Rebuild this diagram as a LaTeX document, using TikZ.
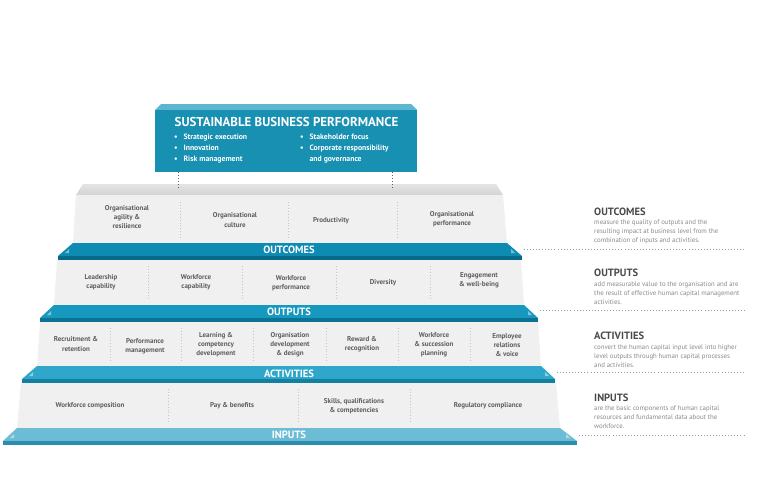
\documentclass[tikz,border=0pt]{standalone}
\usepackage{fontspec}
\setmainfont{PT Sans}
\definecolor{boxteal}{HTML}{1890B2}
\definecolor{boxbevel}{HTML}{5DB6D0}
\definecolor{bandA}{HTML}{0E8BB3}
\definecolor{bandB}{HTML}{1798BF}
\definecolor{bandC}{HTML}{2EA7CA}
\definecolor{bandD}{HTML}{6DBCD6}
\definecolor{stripA}{HTML}{07698A}
\definecolor{stripB}{HTML}{0A7394}
\definecolor{stripC}{HTML}{13809F}
\definecolor{stripD}{HTML}{2A8DAE}
\definecolor{facegray}{HTML}{F0F0F0}
\definecolor{bevtop}{HTML}{E4E4E4}
\definecolor{bevbot}{HTML}{D3D3D3}
\definecolor{labgray}{HTML}{5E5E5E}
\definecolor{divgray}{HTML}{C4C4C4}
\definecolor{leadgray}{HTML}{9A9A9A}
\definecolor{headgray}{HTML}{4A4A4A}
\definecolor{bodygray}{HTML}{8A8A8A}
\begin{document}
\begin{tikzpicture}[x=0.03cm,y=-0.03cm,
  lbl/.style={font=\fontsize{6}{7.8}\selectfont\bfseries, text=labgray, align=center, inner sep=0pt},
  bandlbl/.style={font=\fontsize{9}{10}\selectfont\bfseries, text=white, inner sep=0pt},
  divider/.style={draw=divgray, dotted, line width=0.5pt},
  lead/.style={draw=leadgray, dotted, line width=0.6pt},
  vlead/.style={draw=labgray, dotted, line width=0.6pt},
  head/.style={font=\fontsize{9}{10}\selectfont\bfseries, text=headgray, anchor=west, inner sep=0pt},
  body/.style={font=\fontsize{5.8}{7.7}\selectfont, text=bodygray, align=left, anchor=west, inner sep=0pt},
  cornermark/.style={fill=white, fill opacity=0.45, draw=none},
  toptxt/.style={font=\fontsize{6.6}{9.4}\selectfont\bfseries, text=white, inner sep=0pt, anchor=north west}
]
\useasboundingbox (0,0) rectangle (769,500);
\fill[white] (0,0) rectangle (769,500);

% ---------- top box ----------
\fill[boxbevel] (161,104) -- (411,104) -- (417,110) -- (155,110) -- cycle;
\fill[boxteal] (155,110) rectangle (417,172);
\node[font=\fontsize{11}{12}\selectfont\bfseries, text=white, inner sep=0pt] (title) at (286.5,122) {SUSTAINABLE BUSINESS PERFORMANCE};
\node[toptxt] (bul1) at (174,132) {\begin{tabular}{@{}l@{\hspace{5pt}}l@{}}\textbullet & Strategic execution\\ \textbullet & Innovation\\ \textbullet & Risk management\end{tabular}};
\node[toptxt] (bul2) at (300,132) {\begin{tabular}{@{}l@{\hspace{5pt}}l@{}}\textbullet & Stakeholder focus\\ \textbullet & Corporate responsibility\\ & and governance\end{tabular}};
\coordinate (v1t) at (178,172);
\coordinate (v1b) at (178,189);
\coordinate (v2t) at (392,172);
\coordinate (v2b) at (392,189);

% ---------- OUTCOMES tier ----------
\shade[top color=bevtop, bottom color=bevbot] (83,184) -- (496,184) -- (503,195) -- (76,195) -- cycle;
\fill[facegray] (76,195) -- (503,195) -- (507,243) -- (73,243) -- cycle;
\draw[vlead] (v1t) -- (v1b);
\draw[vlead] (v2t) -- (v2b);
\foreach \x in {180,288,397} \draw[divider] (\x,202) -- (\x,238);
\node[lbl] (oc1) at (127,217) {Organisational\\agility \&\\resilience};
\node[lbl] (oc2) at (235,220) {Organisational\\culture};
\node[lbl] (oc3) at (331,221) {Productivity};
\node[lbl] (oc4) at (452,219) {Organisational\\performance};
\fill[bandA] (73,243) -- (507,243) -- (522,256) -- (58,256) -- cycle;
\fill[stripA] (58,256) rectangle (522,260);
\fill[cornermark] (65,253) -- (69,253) -- (69,249) -- cycle;
\fill[cornermark] (511,253) -- (515,253) -- (511,249) -- cycle;
\node[bandlbl] (outcomes) at (289,250) {OUTCOMES};
\coordinate (e1) at (524,249);

% ---------- OUTPUTS tier ----------
\fill[facegray] (57,260) -- (521,260) -- (524,305) -- (54,305) -- cycle;
\foreach \x in {148,242,336,430} \draw[divider] (\x,266) -- (\x,300);
\node[lbl] (op1) at (101,282.5) {Leadership\\capability};
\node[lbl] (op2) at (196,282.5) {Workforce\\capability};
\node[lbl] (op3) at (291,283) {Workforce\\performance};
\node[lbl] (op4) at (383,283) {Diversity};
\node[lbl] (op5) at (479,280.5) {Engagement\\\& well-being};
\fill[bandB] (54,305) -- (524,305) -- (538,318) -- (40,318) -- cycle;
\fill[stripB] (40,318) rectangle (538,322);
\fill[cornermark] (47,315) -- (51,315) -- (51,311) -- cycle;
\fill[cornermark] (528,315) -- (532,315) -- (528,311) -- cycle;
\node[bandlbl] (outputs) at (289,312) {OUTPUTS};
\coordinate (e2) at (540,310);

% ---------- ACTIVITIES tier ----------
\fill[facegray] (40,322) -- (538,322) -- (541,366) -- (37,366) -- cycle;
\foreach \x in {110,181,253,326,398,470} \draw[divider] (\x,328) -- (\x,362);
\node[lbl] (ac1) at (76,344) {Recruitment \&\\retention};
\node[lbl] (ac2) at (145,346.5) {Performance\\management};
\node[lbl] (ac3) at (216,345) {Learning \&\\competency\\development};
\node[lbl] (ac4) at (290,345) {Organisation\\development\\\& design};
\node[lbl] (ac5) at (362,344.5) {Reward \&\\recognition};
\node[lbl] (ac6) at (434,345) {Workforce\\\& succession\\planning};
\node[lbl] (ac7) at (507,345) {Employee\\relations\\\& voice};
\fill[bandC] (37,366) -- (541,366) -- (555,379) -- (22,379) -- cycle;
\fill[stripC] (22,379) rectangle (555,383);
\fill[cornermark] (29,376) -- (33,376) -- (33,372) -- cycle;
\fill[cornermark] (545,376) -- (549,376) -- (545,372) -- cycle;
\node[bandlbl] (activities) at (289,373.5) {ACTIVITIES};
\coordinate (e3) at (557,372);

% ---------- INPUTS tier ----------
\fill[facegray] (21,383) -- (556,383) -- (560,428) -- (17,428) -- cycle;
\foreach \x in {168,298,410} \draw[divider] (\x,389) -- (\x,423);
\node[lbl] (in1) at (90,405.5) {Workforce composition};
\node[lbl] (in2) at (232,405.5) {Pay \& benefits};
\node[lbl] (in3) at (354,406.5) {Skills, qualifications\\\& competencies};
\node[lbl] (in4) at (488,405.5) {Regulatory compliance};
\fill[bandD] (17,428) -- (560,428) -- (577,441) -- (3,441) -- cycle;
\fill[stripD] (3,441) rectangle (577,445);
\fill[cornermark] (10,438) -- (14,438) -- (14,434) -- cycle;
\fill[cornermark] (566,438) -- (570,438) -- (566,434) -- cycle;
\node[bandlbl] (inputs) at (289,435) {INPUTS};
\coordinate (e4) at (579,435);

% ---------- right-hand descriptions ----------
\node[head] (hOC) at (594,212) {OUTCOMES};
\node[body] (bOC) at (594,232) {measure the quality of outputs and the\\resulting impact at business level from the\\combination of inputs and activities.};
\coordinate (r1) at (745,249);
\draw[lead] (e1) -- (r1);

\node[head] (hOP) at (594,273) {OUTPUTS};
\node[body] (bOP) at (594,293) {add measurable value to the organisation and are\\the result of effective human capital management\\activities.};
\coordinate (r2) at (745,310);
\draw[lead] (e2) -- (r2);

\node[head] (hAC) at (594,336) {ACTIVITIES};
\node[body] (bAC) at (594,356) {convert the human capital input level into higher\\level outputs through human capital processes\\and activities.};
\coordinate (r3) at (745,372);
\draw[lead] (e3) -- (r3);

\node[head] (hIN) at (594,398) {INPUTS};
\node[body] (bIN) at (594,417) {are the basic components of human capital\\resources and fundamental data about the\\workforce.};
\coordinate (r4) at (745,435);
\draw[lead] (e4) -- (r4);
\end{tikzpicture}
\end{document}
